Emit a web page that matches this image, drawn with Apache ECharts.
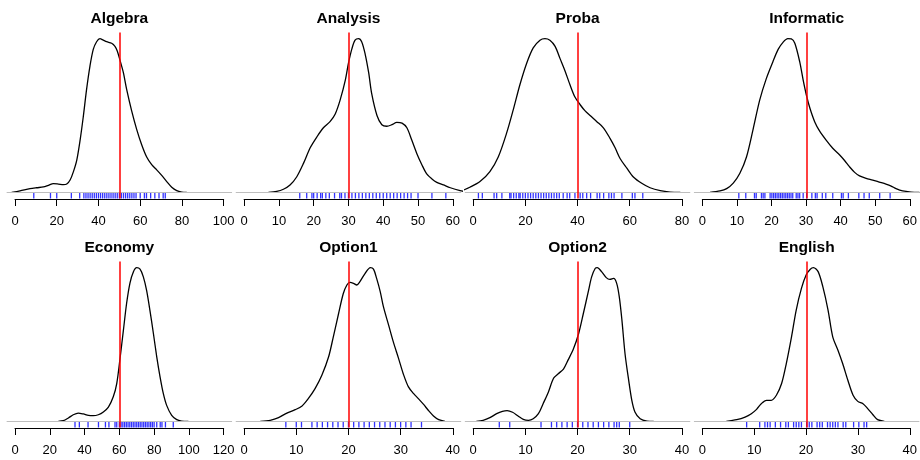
<!DOCTYPE html>
<html>
<head>
<meta charset="utf-8">
<script src="https://cdn.jsdelivr.net/npm/echarts@6/dist/echarts.min.js"></script>
<style>
html, body { margin: 0; padding: 0; background: #fff; }
#chart { width: 920px; height: 460px; }
</style>
</head>
<body>
<div id="chart"></div>
<script>
// panel titles, axis ranges and the red reference lines
var titles = ['Algebra', 'Analysis', 'Proba', 'Informatic', 'Economy', 'Option1', 'Option2', 'English'];
var axisMax = [100, 60, 80, 60, 120, 40, 40, 40];
var axisStep = [20, 10, 20, 10, 20, 10, 10, 10];
var refLines = [50, 30, 40, 30, 60, 20, 20, 20];

// density curves (height relative to the peak)
var algebraX = [-1.6, 2.4, 7.2, 10.4, 13.6, 16, 18.4, 20.8, 23.2, 24.8, 26.4, 28, 29.6, 31.2, 32.7, 34.3, 35.9, 37.5, 39.1, 40.7, 42.3, 43.9, 46.3, 47.9, 49, 50.3, 51.9, 53.5, 55.9, 58.3, 60.7, 63.1, 65.5, 67.9, 70.3, 72.7, 75.1, 77.5, 79.9, 82.3];
var algebraY = [0, 0.01, 0.024, 0.03, 0.035, 0.046, 0.057, 0.054, 0.05, 0.054, 0.08, 0.135, 0.21, 0.34, 0.49, 0.67, 0.82, 0.93, 0.98, 1.0, 0.99, 0.98, 0.97, 0.95, 0.92, 0.86, 0.78, 0.67, 0.53, 0.41, 0.31, 0.23, 0.18, 0.146, 0.11, 0.07, 0.033, 0.011, 0.002, 0];

var analysisX = [7, 9.4, 11.3, 13.2, 15.1, 17.1, 19, 20.9, 22.8, 24.7, 26.2, 27.6, 29.1, 30, 31, 31.9, 32.9, 33.8, 34.8, 35.8, 36.7, 38.2, 39.6, 41, 42.5, 43.9, 45.4, 46.8, 48.2, 49.7, 51.1, 52.5, 54, 55.4, 57.3, 59.3, 62.1, 63.5];
var analysisY = [0, 0.006, 0.02, 0.048, 0.1, 0.19, 0.29, 0.36, 0.42, 0.46, 0.51, 0.6, 0.73, 0.84, 0.935, 0.99, 1.0, 0.98, 0.9, 0.78, 0.64, 0.5, 0.44, 0.43, 0.44, 0.455, 0.45, 0.42, 0.34, 0.25, 0.18, 0.12, 0.087, 0.065, 0.048, 0.03, 0.011, 0.005];

var probaX = [-4.5, -1.3, 2.6, 6.4, 9.6, 12.8, 15.4, 17.9, 20.5, 23, 25.6, 27.5, 29.4, 31.4, 33.3, 35.2, 37.1, 39, 41, 42.9, 44.8, 47.4, 49.9, 52.5, 54.4, 56.3, 58.9, 61.4, 64.6, 67.8, 71.7, 75.5, 79.4];
var probaY = [0.009, 0.033, 0.07, 0.135, 0.23, 0.385, 0.54, 0.7, 0.84, 0.94, 0.99, 1.0, 0.99, 0.95, 0.87, 0.79, 0.7, 0.62, 0.57, 0.53, 0.5, 0.46, 0.42, 0.35, 0.29, 0.22, 0.157, 0.1, 0.059, 0.03, 0.011, 0.002, 0];

var informaticX = [2.2, 5.1, 7, 8.9, 10.8, 12.7, 14.6, 16.5, 18.4, 20.3, 21.8, 23.2, 24.6, 25.6, 26.6, 28, 29, 29.9, 30.9, 32.3, 33.7, 35.6, 37.5, 39.5, 40.9, 42.3, 43.8, 45.2, 47.1, 49, 50.9, 52.8, 54.3, 55.7, 57.6, 60, 62.4];
var informaticY = [0, 0.009, 0.024, 0.06, 0.124, 0.23, 0.41, 0.6, 0.74, 0.85, 0.93, 0.976, 1.0, 0.998, 0.97, 0.85, 0.73, 0.635, 0.55, 0.46, 0.4, 0.34, 0.287, 0.243, 0.207, 0.167, 0.13, 0.107, 0.091, 0.08, 0.067, 0.054, 0.041, 0.024, 0.009, 0.002, 0];

var economyX = [24.9, 27.8, 30.7, 33.5, 36.4, 39.3, 42.2, 45, 47.9, 50.8, 53.7, 56.5, 58.5, 60.4, 62.3, 64.2, 66.1, 68.1, 70, 71.9, 73.8, 75.7, 77.6, 79.6, 81.5, 83.4, 85.3, 87.2, 90.1, 93, 95.8, 99.7];
var economyY = [0, 0.004, 0.022, 0.043, 0.054, 0.048, 0.039, 0.037, 0.043, 0.061, 0.093, 0.16, 0.246, 0.41, 0.59, 0.77, 0.9, 0.974, 1.0, 0.99, 0.94, 0.85, 0.72, 0.57, 0.42, 0.29, 0.18, 0.104, 0.039, 0.011, 0.002, 0];

var option1X = [3.1, 5, 6.6, 8.2, 9.8, 11.1, 12.3, 13.6, 14.9, 16.2, 17.1, 18.1, 19, 19.7, 20.3, 20.96, 21.6, 22.2, 23.2, 24.2, 24.8, 25.4, 26.1, 26.7, 27.7, 28.6, 29.6, 30.5, 31.5, 32.5, 33.4, 34.4, 35.3, 36.3, 37.3, 38.5];
var option1Y = [0, 0.007, 0.024, 0.054, 0.076, 0.1, 0.148, 0.213, 0.3, 0.42, 0.55, 0.7, 0.83, 0.887, 0.904, 0.898, 0.887, 0.909, 0.963, 1.0, 0.99, 0.93, 0.843, 0.746, 0.626, 0.517, 0.41, 0.31, 0.224, 0.18, 0.148, 0.11, 0.072, 0.035, 0.011, 0];

var option2X = [0.6, 1.9, 3.2, 4.5, 5.6, 6.5, 7.55, 8.6, 9.6, 10.6, 11.5, 12.5, 13.4, 14.4, 15.4, 16.3, 17.3, 18.2, 19.2, 20.2, 21.1, 22.1, 22.7, 23.4, 23.8, 24.6, 25.5, 26.2, 26.9, 27.5, 28, 28.5, 29.1, 29.8, 30.4, 31, 32, 33.3, 34.6];
var option2Y = [0, 0.007, 0.024, 0.05, 0.065, 0.07, 0.059, 0.035, 0.013, 0.007, 0.017, 0.05, 0.115, 0.19, 0.28, 0.31, 0.34, 0.4, 0.47, 0.57, 0.7, 0.85, 0.94, 0.996, 1.0, 0.974, 0.935, 0.924, 0.93, 0.898, 0.81, 0.66, 0.44, 0.267, 0.137, 0.061, 0.017, 0.002, 0];

var englishX = [4.6, 6.6, 8.2, 9.4, 10.4, 11.3, 12.3, 13.2, 14.2, 15.2, 16.1, 17.1, 18, 19, 19.9, 20.7, 21.3, 22.2, 23.1, 24.1, 25, 26, 26.9, 27.9, 28.9, 29.8, 30.8, 31.7, 32.7, 33.6, 34.9];
var englishY = [0, 0.011, 0.028, 0.05, 0.078, 0.115, 0.137, 0.137, 0.17, 0.246, 0.376, 0.55, 0.724, 0.865, 0.952, 0.99, 1.0, 0.974, 0.876, 0.724, 0.55, 0.463, 0.376, 0.267, 0.17, 0.13, 0.115, 0.083, 0.043, 0.011, 0];

// rug marks (observed scores)
var algebraRug = [9, 17, 20, 27, 31, 33, 34, 35, 36, 37, 38, 39, 40, 41, 42, 43, 44, 45, 46, 47, 48, 49, 50, 51, 52, 53, 54, 55, 56, 57, 58, 60, 62, 63, 65, 67, 69, 71, 72];
var analysisRug = [16, 18, 19.5, 20, 21, 22, 22.5, 23.5, 24.5, 26, 27.5, 28, 29, 30, 31, 32, 33, 34, 35, 36, 37, 38, 39, 40, 41, 42, 43, 44, 45, 46, 47, 48, 50, 54, 58];
var probaRug = [2, 3.5, 8, 9, 11, 14, 14.5, 15.5, 16.5, 17.5, 18, 19, 20, 21, 22, 23, 24, 25, 26, 27, 28, 29, 30, 31, 32, 33, 34.5, 36, 37, 39, 41, 42, 43.5, 45, 47.5, 48.5, 50, 52, 53, 54, 57, 61, 62, 65];
var informaticRug = [10.5, 12.5, 15, 15.5, 17, 17.5, 18, 19.5, 20, 20.5, 21, 21.5, 22, 22.5, 23, 23.5, 24, 24.5, 25, 25.5, 26, 27, 27.5, 28, 29, 30, 31.5, 32.5, 33, 34.5, 35.5, 37.5, 40, 40.5, 42, 45, 46.5, 48, 51, 54];
var economyRug = [34.5, 37, 42, 48, 52, 54, 57.5, 58.5, 60, 61, 62, 63, 64, 65, 66, 67, 68, 69, 70, 71, 72, 73, 74, 75, 76, 77, 78, 79, 80, 81.5, 83.5, 84.5, 86.5, 91];
var option1Rug = [8, 10, 11, 13, 14, 15, 16, 17, 18, 19, 20, 21, 22, 23, 24, 25, 26, 27, 28, 29, 30, 31, 32, 34];
var option2Rug = [5, 7, 13, 15, 16, 17, 18, 19, 20, 21, 22, 23, 24, 25, 26, 27, 27.5, 28, 30];
var englishRug = [8.5, 11, 12, 12.5, 13, 14, 15, 16, 16.5, 17.5, 18, 18.5, 19, 20, 20.5, 21, 22, 22.5, 23, 24, 24.5, 25, 25.5, 26, 27, 27.5, 29, 30, 31, 31.5];

var curvesX = [algebraX, analysisX, probaX, informaticX, economyX, option1X, option2X, englishX];
var curvesY = [algebraY, analysisY, probaY, informaticY, economyY, option1Y, option2Y, englishY];
var rugs = [algebraRug, analysisRug, probaRug, informaticRug, economyRug, option1Rug, option2Rug, englishRug];

// layout of the 2x4 panels
var colLeft = [15, 244.1, 473.2, 702.3];
var rowTop = [32.5, 261.5];
var axisW = 208.7;
var plotH = 166;
var font = '"Liberation Sans", Arial, Helvetica, sans-serif';

var grids = [], xAxes = [], yAxes = [], series = [], texts = [];

for (var i = 0; i < titles.length; i++) {
    var c = i % 4, r = Math.floor(i / 4);
    var M = axisMax[i];
    var peak = Math.max.apply(null, curvesY[i]);
    var pg = 2 * i, ag = 2 * i + 1;

    // plot region (xlim 0..M widened by 4%)
    grids.push({ left: colLeft[c] - 0.04 * axisW, top: rowTop[r], width: axisW * 1.08, height: plotH });
    xAxes.push({ gridIndex: pg, type: 'value', min: -0.04 * M, max: 1.04 * M, show: false });
    yAxes.push({ gridIndex: pg, type: 'value', min: -0.04 * peak, max: 1.04 * peak, show: false });

    // axis strip: line only from 0 to M
    grids.push({ left: colLeft[c], top: rowTop[r] + plotH - 0.5, width: axisW, height: 1 });
    xAxes.push({
        gridIndex: ag, type: 'value', min: 0, max: M, interval: axisStep[i],
        axisLine: { show: true, lineStyle: { color: '#000', width: 1 } },
        axisTick: { show: true, inside: false, length: 7, lineStyle: { color: '#000', width: 1 } },
        axisLabel: { show: true, color: '#000', fontSize: 13, fontFamily: font, margin: 16 },
        splitLine: { show: false }
    });
    yAxes.push({ gridIndex: ag, type: 'value', show: false });

    var pts = [];
    for (var k = 0; k < curvesX[i].length; k++) {
        pts.push([curvesX[i][k], curvesY[i][k]]);
    }

    series.push({
        type: 'line',
        xAxisIndex: pg, yAxisIndex: pg,
        data: pts,
        showSymbol: false,
        smooth: 0.3,
        lineStyle: { color: '#000', width: 1.3 },
        silent: true,
        markLine: {
            silent: true,
            symbol: ['none', 'none'],
            label: { show: false },
            data: [
                { yAxis: 0, lineStyle: { color: '#bebebe', width: 1, type: 'solid' } },
                { xAxis: refLines[i], lineStyle: { color: '#ff0000', width: 1.5, type: 'solid' } }
            ]
        }
    });

    series.push({
        type: 'scatter',
        xAxisIndex: pg, yAxisIndex: pg,
        data: rugs[i].map(function (v) { return [v, -0.04 * peak]; }),
        symbol: 'rect',
        symbolSize: [1.3, 5.5],
        symbolOffset: [0, -2.75],
        itemStyle: { color: '#0000ff' },
        clip: false,
        silent: true,
        z: 1
    });

    texts.push({
        type: 'text',
        x: colLeft[c] + axisW / 2,
        y: rowTop[r] - 14,
        style: {
            text: titles[i],
            textAlign: 'center',
            textVerticalAlign: 'middle',
            fill: '#000',
            font: 'bold 15.5px ' + font
        }
    });
}

var my_chart = echarts.init(document.getElementById('chart'));
my_chart.setOption({
    animation: false,
    backgroundColor: '#fff',
    grid: grids,
    xAxis: xAxes,
    yAxis: yAxes,
    series: series,
    graphic: texts
});
</script>
</body>
</html>
